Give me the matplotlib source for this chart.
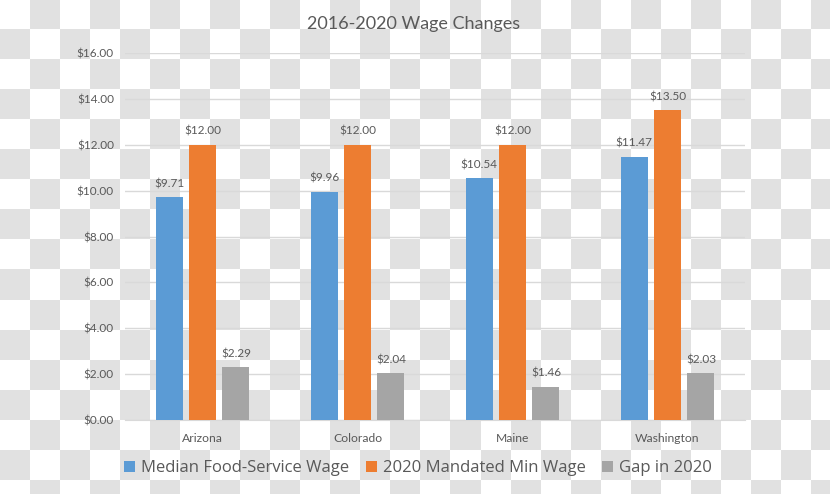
import numpy as np
import matplotlib.pyplot as plt
from matplotlib.patches import Patch

states = ["Arizona", "Colorado", "Maine", "Washington"]
median_wage = [9.71, 9.96, 10.54, 11.47]
min_wage = [12.00, 12.00, 12.00, 13.50]
gap_2020 = [2.29, 2.04, 1.46, 2.03]
series_names = ["Median Food-Service Wage", "2020 Mandated Min Wage", "Gap in 2020"]
y_ticks = np.arange(0, 18, 2)

colors = ["#5B9BD5", "#ED7D31", "#A5A5A5"]
text_gray = "#595959"
grid_gray = "#D9D9D9"

W, H = 830, 494
fig = plt.figure(figsize=(W / 100, H / 100), dpi=100)

# checkerboard backdrop (transparent-image pattern)
bg = fig.add_axes([0, 0, 1, 1], zorder=-10)
cell = 30
nr, nc = int(np.ceil(H / cell)), int(np.ceil(W / cell))
rr, cc = np.mgrid[0:nr, 0:nc]
board = np.where((rr + cc) % 2 == 1, 225, 255).astype(np.uint8)
bg.imshow(np.dstack([board] * 3), extent=[0, nc * cell, nr * cell, 0],
          interpolation="nearest", aspect="auto")
bg.set_xlim(0, W)
bg.set_ylim(H, 0)
bg.axis("off")

ax = fig.add_axes([125 / W, 74 / H, 620 / W, 367 / H])
ax.patch.set_alpha(0)

x = np.arange(len(states))
step, width = 0.216, 0.174
for i, (vals, col) in enumerate(zip([median_wage, min_wage, gap_2020], colors)):
    pos = x + (i - 1) * step
    ax.bar(pos, vals, width=width, color=col, zorder=3)
    for p, v in zip(pos, vals):
        ax.text(p, v + 0.35, f"${v:.2f}", ha="center", va="bottom",
                fontsize=8.5, color=text_gray, family="Lato")

ax.set_xlim(-0.5, 3.5)
ax.set_ylim(0, 16)
ax.set_yticks(y_ticks)
ax.set_yticklabels([f"${t:.2f}" for t in y_ticks], fontsize=8.5, color=text_gray, family="Lato")
ax.set_xticks(x)
ax.set_xticklabels(states, fontsize=8.7, color=text_gray, family="Lato")
ax.tick_params(length=0, pad=8)
ax.tick_params(axis="x", pad=9)
ax.yaxis.grid(True, color=grid_gray, linewidth=1, zorder=0)
for s in ["top", "right", "left"]:
    ax.spines[s].set_visible(False)
ax.spines["bottom"].set_color(grid_gray)

fig.text(414 / W, 1 - 24 / H, "2016-2020 Wage Changes", ha="center", va="center",
         fontsize=13, color=text_gray, family="Lato")

handles = [Patch(facecolor=c, edgecolor="none") for c in colors]
fig.legend(handles, series_names, loc="center", bbox_to_anchor=(418 / W, 26 / H),
           ncol=3, frameon=False, handlelength=0.65, handleheight=0.65,
           handletextpad=0.35, columnspacing=1.0, labelcolor=text_gray,
           prop={"family": "Open Sans", "size": 12})

fig.savefig("out.png", dpi=100)
